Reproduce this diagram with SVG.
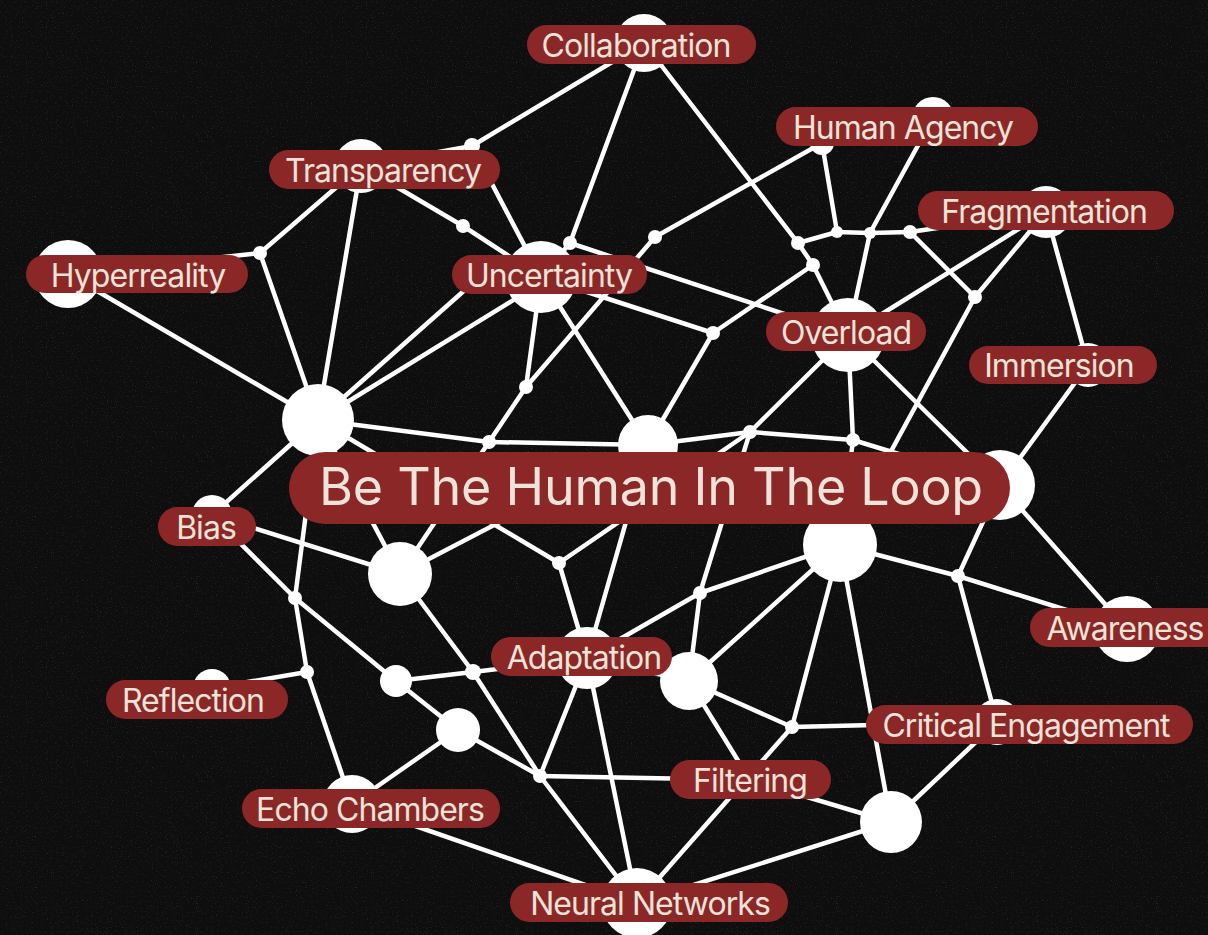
<svg xmlns="http://www.w3.org/2000/svg" width="1208" height="935" viewBox="0 0 1208 935">
<defs>
<filter id="grain" x="0" y="0" width="100%" height="100%">
<feTurbulence type="fractalNoise" baseFrequency="0.8" numOctaves="2" seed="7"/>
<feColorMatrix values="0 0 0 0 1  0 0 0 0 1  0 0 0 0 1  0 0 0 3 -1.8"/>
</filter>
</defs>
<style>
.bg{fill:#0e0e0e}
.edge{stroke:#ffffff;stroke-width:4.5;stroke-linecap:round}
.node{fill:#ffffff}
.pill{fill:#8c2727}
.lbl{fill:#ede3d9;font-family:Inter,"Noto Sans","Liberation Sans",sans-serif;font-size:32px;text-anchor:middle;letter-spacing:-0.95px}
.main{font-size:52px;letter-spacing:-0.25px}
</style>
<rect class="bg" x="0" y="0" width="1208" height="935"/>
<rect x="0" y="0" width="1208" height="935" filter="url(#grain)" opacity="0.13"/>
<g id="connectors" class="edge">
<line x1="644" y1="43" x2="472" y2="146"/>
<line x1="644" y1="43" x2="570" y2="243"/>
<line x1="644" y1="43" x2="798" y2="243"/>
<line x1="361" y1="166" x2="260" y2="253"/>
<line x1="361" y1="166" x2="318" y2="420"/>
<line x1="361" y1="166" x2="463" y2="226"/>
<line x1="361" y1="166" x2="472" y2="146"/>
<line x1="463" y1="226" x2="541" y2="277"/>
<line x1="472" y1="146" x2="541" y2="277"/>
<line x1="68" y1="274" x2="260" y2="253"/>
<line x1="68" y1="274" x2="318" y2="420"/>
<line x1="260" y1="253" x2="318" y2="420"/>
<line x1="318" y1="420" x2="492" y2="266"/>
<line x1="318" y1="420" x2="541" y2="283"/>
<line x1="318" y1="420" x2="489" y2="442"/>
<line x1="489" y1="442" x2="648" y2="445"/>
<line x1="648" y1="445" x2="750" y2="432"/>
<line x1="750" y1="432" x2="853" y2="440"/>
<line x1="853" y1="440" x2="1000" y2="485"/>
<line x1="318" y1="420" x2="212" y2="515"/>
<line x1="318" y1="420" x2="295" y2="598"/>
<line x1="295" y1="598" x2="307" y2="672"/>
<line x1="318" y1="420" x2="400" y2="574"/>
<line x1="318" y1="420" x2="559" y2="563"/>
<line x1="212" y1="515" x2="295" y2="598"/>
<line x1="295" y1="598" x2="396" y2="681"/>
<line x1="396" y1="681" x2="458" y2="730"/>
<line x1="458" y1="730" x2="540" y2="776"/>
<line x1="212" y1="515" x2="400" y2="574"/>
<line x1="400" y1="574" x2="489" y2="442"/>
<line x1="400" y1="574" x2="648" y2="445"/>
<line x1="400" y1="574" x2="473" y2="672"/>
<line x1="473" y1="672" x2="540" y2="776"/>
<line x1="540" y1="776" x2="637" y2="903"/>
<line x1="489" y1="442" x2="526" y2="387"/>
<line x1="526" y1="387" x2="541" y2="277"/>
<line x1="526" y1="387" x2="655" y2="237"/>
<line x1="655" y1="237" x2="822" y2="143"/>
<line x1="307" y1="672" x2="212" y2="688"/>
<line x1="307" y1="672" x2="352" y2="804"/>
<line x1="473" y1="672" x2="396" y2="681"/>
<line x1="473" y1="672" x2="587" y2="658"/>
<line x1="458" y1="730" x2="352" y2="804"/>
<line x1="352" y1="804" x2="637" y2="903"/>
<line x1="540" y1="776" x2="587" y2="658"/>
<line x1="540" y1="776" x2="750" y2="780"/>
<line x1="587" y1="658" x2="559" y2="563"/>
<line x1="587" y1="658" x2="648" y2="445"/>
<line x1="587" y1="658" x2="637" y2="903"/>
<line x1="587" y1="658" x2="700" y2="593"/>
<line x1="587" y1="658" x2="689" y2="681"/>
<line x1="559" y1="563" x2="750" y2="432"/>
<line x1="700" y1="593" x2="750" y2="432"/>
<line x1="700" y1="593" x2="840" y2="545"/>
<line x1="700" y1="593" x2="689" y2="681"/>
<line x1="689" y1="681" x2="792" y2="727"/>
<line x1="689" y1="681" x2="750" y2="780"/>
<line x1="689" y1="681" x2="840" y2="545"/>
<line x1="792" y1="727" x2="997" y2="722"/>
<line x1="792" y1="727" x2="637" y2="903"/>
<line x1="792" y1="727" x2="840" y2="545"/>
<line x1="891" y1="822" x2="637" y2="903"/>
<line x1="891" y1="822" x2="750" y2="780"/>
<line x1="891" y1="822" x2="997" y2="722"/>
<line x1="891" y1="822" x2="840" y2="545"/>
<line x1="958" y1="576" x2="840" y2="545"/>
<line x1="958" y1="576" x2="1127" y2="629"/>
<line x1="958" y1="576" x2="1000" y2="485"/>
<line x1="958" y1="576" x2="997" y2="722"/>
<line x1="1000" y1="485" x2="1088" y2="365"/>
<line x1="1000" y1="485" x2="1127" y2="629"/>
<line x1="1000" y1="485" x2="848" y2="335"/>
<line x1="1088" y1="365" x2="1046" y2="212"/>
<line x1="1046" y1="212" x2="848" y2="335"/>
<line x1="1046" y1="212" x2="975" y2="297"/>
<line x1="1046" y1="212" x2="910" y2="232"/>
<line x1="975" y1="297" x2="910" y2="232"/>
<line x1="975" y1="297" x2="840" y2="545"/>
<line x1="870" y1="233" x2="933" y2="118"/>
<line x1="870" y1="233" x2="848" y2="335"/>
<line x1="870" y1="233" x2="837" y2="232"/>
<line x1="870" y1="233" x2="910" y2="232"/>
<line x1="837" y1="232" x2="822" y2="143"/>
<line x1="837" y1="232" x2="798" y2="243"/>
<line x1="798" y1="243" x2="813" y2="265"/>
<line x1="813" y1="265" x2="848" y2="335"/>
<line x1="813" y1="265" x2="713" y2="333"/>
<line x1="713" y1="333" x2="541" y2="277"/>
<line x1="713" y1="333" x2="648" y2="445"/>
<line x1="570" y1="243" x2="848" y2="335"/>
<line x1="570" y1="243" x2="541" y2="277"/>
<line x1="541" y1="277" x2="648" y2="445"/>
<line x1="848" y1="335" x2="750" y2="432"/>
<line x1="848" y1="335" x2="853" y2="440"/>
<line x1="853" y1="440" x2="840" y2="545"/>
</g>
<g id="junctions" class="node">
<circle cx="260" cy="253" r="7"/>
<circle cx="463" cy="226" r="7"/>
<circle cx="472" cy="146" r="8"/>
<circle cx="570" cy="243" r="7"/>
<circle cx="655" cy="237" r="7"/>
<circle cx="526" cy="387" r="7"/>
<circle cx="489" cy="442" r="7"/>
<circle cx="713" cy="333" r="7"/>
<circle cx="798" cy="243" r="7"/>
<circle cx="813" cy="265" r="7"/>
<circle cx="837" cy="232" r="6"/>
<circle cx="870" cy="233" r="6"/>
<circle cx="910" cy="232" r="7"/>
<circle cx="975" cy="297" r="7"/>
<circle cx="750" cy="432" r="7"/>
<circle cx="853" cy="440" r="7"/>
<circle cx="958" cy="576" r="7"/>
<circle cx="700" cy="593" r="7"/>
<circle cx="559" cy="563" r="7"/>
<circle cx="295" cy="598" r="7"/>
<circle cx="307" cy="672" r="7"/>
<circle cx="473" cy="672" r="8"/>
<circle cx="540" cy="776" r="7"/>
<circle cx="792" cy="727" r="7"/>
<circle cx="492" cy="266" r="7"/>
</g>
<g id="n-collaboration" class="node"><circle cx="644" cy="43" r="29"/></g>
<g id="n-transparency" class="node"><circle cx="361" cy="166" r="27"/></g>
<g id="n-hyperreality" class="node"><circle cx="68" cy="274" r="34"/></g>
<g id="n-uncertainty" class="node"><circle cx="541" cy="277" r="36"/></g>
<g id="n-human-agency" class="node"><circle cx="933" cy="118" r="21"/><circle cx="822" cy="143" r="12"/></g>
<g id="n-fragmentation" class="node"><circle cx="1046" cy="212" r="26"/></g>
<g id="n-overload" class="node"><circle cx="848" cy="335" r="37"/></g>
<g id="n-immersion" class="node"><circle cx="1088" cy="365" r="22"/></g>
<g id="n-hub-right" class="node"><circle cx="1000" cy="485" r="35"/></g>
<g id="n-hub-left" class="node"><circle cx="318" cy="420" r="36"/></g>
<g id="n-hub-center" class="node"><circle cx="648" cy="445" r="30"/></g>
<g id="n-hub-below" class="node"><circle cx="840" cy="545" r="37"/></g>
<g id="n-a" class="node"><circle cx="400" cy="574" r="32"/></g>
<g id="n-bias" class="node"><circle cx="212" cy="515" r="20"/></g>
<g id="n-adaptation" class="node"><circle cx="587" cy="658" r="31"/></g>
<g id="n-b" class="node"><circle cx="689" cy="681" r="29"/></g>
<g id="n-c" class="node"><circle cx="396" cy="681" r="16"/></g>
<g id="n-d" class="node"><circle cx="458" cy="730" r="22"/></g>
<g id="n-reflection" class="node"><circle cx="212" cy="688" r="19"/></g>
<g id="n-echo-chambers" class="node"><circle cx="352" cy="804" r="29"/></g>
<g id="n-neural-networks" class="node"><circle cx="637" cy="903" r="35"/></g>
<g id="n-filtering" class="node"><circle cx="750" cy="780" r="14"/></g>
<g id="n-critical-engagement" class="node"><circle cx="997" cy="722" r="23"/></g>
<g id="n-awareness" class="node"><circle cx="1127" cy="629" r="33"/></g>
<g id="n-e" class="node"><circle cx="891" cy="822" r="31"/></g>
<g id="labels">
<g id="l-collaboration"><rect class="pill" x="527" y="25" width="229" height="39" rx="19.5"/><text class="lbl" x="636" y="57">Collaboration</text></g>
<g id="l-transparency"><rect class="pill" x="269" y="150" width="231" height="39" rx="19.5"/><text class="lbl" x="383" y="182">Transparency</text></g>
<g id="l-human-agency"><rect class="pill" x="776" y="107" width="262" height="39" rx="19.5"/><text class="lbl" x="903" y="139">Human Agency</text></g>
<g id="l-fragmentation"><rect class="pill" x="918" y="191" width="256" height="39" rx="19.5"/><text class="lbl" x="1044" y="223">Fragmentation</text></g>
<g id="l-hyperreality"><rect class="pill" x="26" y="255" width="222" height="38" rx="19"/><text class="lbl" x="138" y="287">Hyperreality</text></g>
<g id="l-uncertainty"><rect class="pill" x="452" y="255" width="195" height="39" rx="19.5"/><text class="lbl" x="549" y="287">Uncertainty</text></g>
<g id="l-overload"><rect class="pill" x="766" y="312" width="160" height="39" rx="19.5"/><text class="lbl" x="846" y="344">Overload</text></g>
<g id="l-immersion"><rect class="pill" x="969" y="346" width="188" height="38" rx="19"/><text class="lbl" x="1059" y="377">Immersion</text></g>
<g id="l-main"><rect class="pill" x="289" y="452" width="721" height="72" rx="36"/><text class="lbl main" x="651" y="505">Be The Human In The Loop</text></g>
<g id="l-bias"><rect class="pill" x="158" y="507" width="98" height="39" rx="19.5"/><text class="lbl" x="206" y="539">Bias</text></g>
<g id="l-awareness"><rect class="pill" x="1030" y="608" width="200" height="39" rx="19.5"/><text class="lbl" x="1125" y="640">Awareness</text></g>
<g id="l-adaptation"><rect class="pill" x="491" y="637" width="181" height="39" rx="19.5"/><text class="lbl" x="584" y="669">Adaptation</text></g>
<g id="l-reflection"><rect class="pill" x="106" y="680" width="182" height="39" rx="19.5"/><text class="lbl" x="193" y="712">Reflection</text></g>
<g id="l-critical-engagement"><rect class="pill" x="866" y="705" width="327" height="39" rx="19.5"/><text class="lbl" x="1026" y="737">Critical Engagement</text></g>
<g id="l-filtering"><rect class="pill" x="670" y="760" width="161" height="39" rx="19.5"/><text class="lbl" x="750" y="792">Filtering</text></g>
<g id="l-echo-chambers"><rect class="pill" x="242" y="789" width="258" height="39" rx="19.5"/><text class="lbl" x="370" y="821">Echo Chambers</text></g>
<g id="l-neural-networks"><rect class="pill" x="510" y="883" width="278" height="39" rx="19.5"/><text class="lbl" x="650" y="915">Neural Networks</text></g>
</g>
</svg>
